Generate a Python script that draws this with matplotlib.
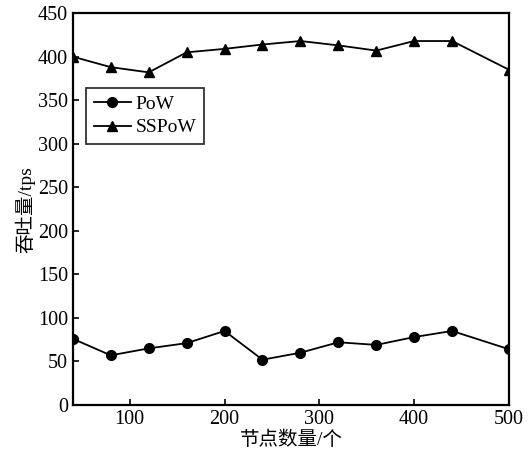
import matplotlib
matplotlib.use("Agg")
import matplotlib.pyplot as plt

plt.rcParams["font.family"] = ["Liberation Serif", "Noto Sans CJK SC"]

nodes = [40, 80, 120, 160, 200, 240, 280, 320, 360, 400, 440, 500]
pow_tps = [76, 57, 65, 71, 85, 52, 60, 72, 69, 78, 85, 64]
sspow_tps = [400, 388, 382, 405, 409, 414, 418, 413, 407, 418, 418, 385]

fig = plt.figure(figsize=(5.28, 4.54), dpi=100)
ax = fig.add_axes([0.138, 0.108, 0.826, 0.863])

ax.plot(nodes, pow_tps, color="black", lw=1.3, marker="o", ms=7, label="PoW")
ax.plot(nodes, sspow_tps, color="black", lw=1.3, marker="^", ms=7, label="SSPoW")

ax.set_xlim(40, 500)
ax.set_ylim(0, 450)
ax.set_xticks([100, 200, 300, 400, 500])
ax.set_yticks(range(0, 451, 50))
ax.tick_params(direction="in", length=4, width=1.2, labelsize=14.5, top=False, right=False)
for s in ax.spines.values():
    s.set_linewidth(1.6)

ax.set_xlabel("节点数量/个", fontsize=14, labelpad=1)
ax.set_ylabel("吞吐量/tps", fontsize=14, labelpad=2)

leg = ax.legend(loc="upper left", bbox_to_anchor=(0.008, 0.835), fontsize=14,
                frameon=True, fancybox=False, edgecolor="black", handlelength=1.9,
                borderpad=0.4, labelspacing=0.3, handletextpad=0.25)
leg.get_frame().set_linewidth(1.3)

fig.savefig("out.png", dpi=100)
